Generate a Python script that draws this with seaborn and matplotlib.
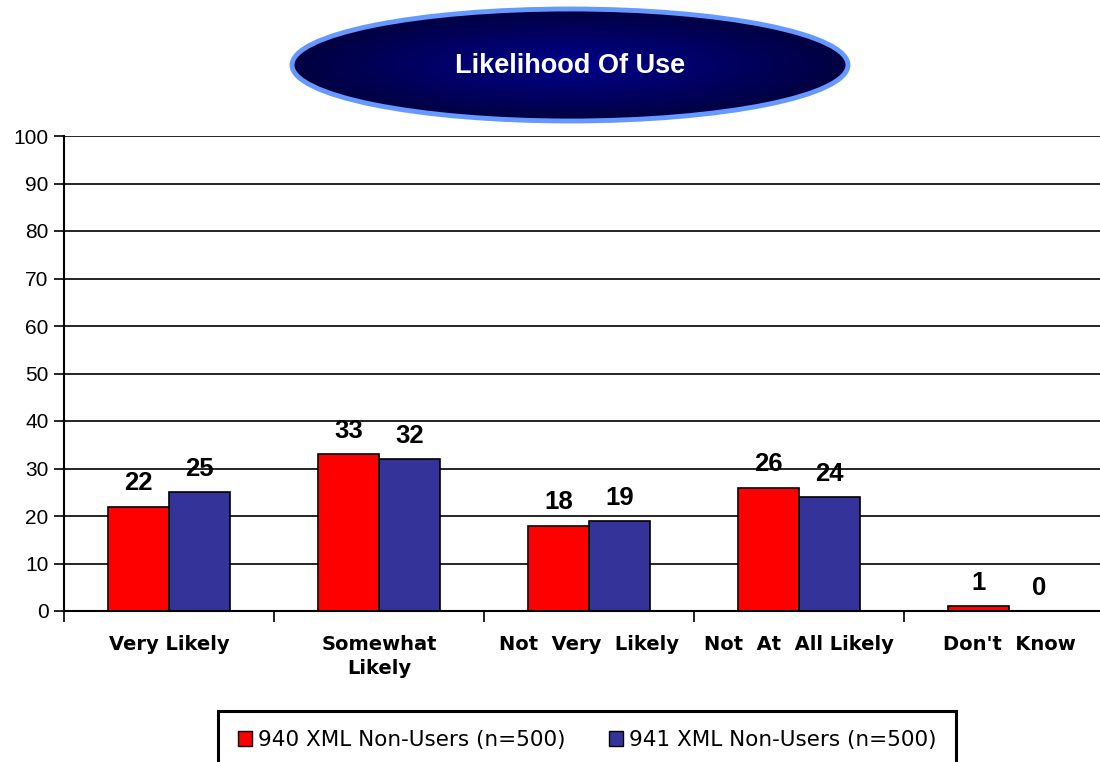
import numpy as np
import pandas as pd
import matplotlib
matplotlib.use("Agg")
import matplotlib.pyplot as plt
import seaborn as sns
from matplotlib.patches import Ellipse, Patch

categories = ["Very Likely", "Somewhat\nLikely", "Not  Very  Likely", "Not  At  All Likely", "Don't  Know"]
series_names = ["940 XML Non-Users (n=500)", "941 XML Non-Users (n=500)"]
values_940 = [22, 33, 18, 26, 1]
values_941 = [25, 32, 19, 24, 0]
y_ticks = [0, 10, 20, 30, 40, 50, 60, 70, 80, 90, 100]
title = "Likelihood Of Use"
colors = ["#FF0000", "#333399"]

df = pd.DataFrame({
    "category": categories * 2,
    "series": [series_names[0]] * 5 + [series_names[1]] * 5,
    "value": values_940 + values_941,
})

sns.set_theme(style="white")
plt.rcParams["font.family"] = ["DejaVu Sans"]
plt.rcParams["text.color"] = "black"
plt.rcParams["xtick.color"] = "black"
plt.rcParams["ytick.color"] = "black"
plt.rcParams["axes.labelcolor"] = "black"

W, H = 1100, 762
fig = plt.figure(figsize=(W / 100, H / 100), dpi=100)
ax = fig.add_axes([64 / W, (H - 611) / H, 1050 / W, (611 - 136) / H])

sns.barplot(data=df, x="category", y="value", hue="series", order=categories,
            hue_order=series_names, palette=colors, width=0.58, dodge=True,
            edgecolor="black", linewidth=1.2, ax=ax, legend=False, saturation=1)

ax.set_ylim(0, 100)
ax.set_xlim(-0.5, 4.5)
ax.set_yticks(y_ticks)
ax.set_yticklabels([str(t) for t in y_ticks], family="Liberation Sans", fontsize=15, color="black")
ax.yaxis.grid(True, color="black", linewidth=1.2)
ax.set_axisbelow(True)
ax.set_xlabel("")
ax.set_ylabel("")
ax.tick_params(axis="y", which="major", left=True, length=7, width=1.2, color="black", pad=4)
ax.set_xticks(range(5))
ax.set_xticklabels(categories, fontweight="bold", fontsize=14, family="DejaVu Sans",
                   linespacing=1.35, color="black")
ax.tick_params(axis="x", which="major", length=0, pad=17)
ax.set_xticks(np.arange(-0.5, 5.0, 1.0), minor=True)
ax.tick_params(axis="x", which="minor", bottom=True, length=8, width=1.2, color="black")
for s in ["top", "right"]:
    ax.spines[s].set_visible(False)
for s in ["left", "bottom"]:
    ax.spines[s].set_color("black")
    ax.spines[s].set_linewidth(1.5)

for cont in ax.containers:
    ax.bar_label(cont, fmt="%d", padding=8, fontsize=18.5, fontweight="bold",
                 family="Liberation Sans", color="black")

# title ellipse with radial gradient
tax = fig.add_axes([0, 0, 1, 1], zorder=5)
tax.set_xlim(0, W)
tax.set_ylim(H, 0)
tax.axis("off")
cx, cy, ew, eh = 570, 65, 556, 112
yy, xx = np.mgrid[0:200, 0:600]
r = np.sqrt(((xx - 300) / 300) ** 2 + ((yy - 100) / 100) ** 2)
c0 = np.array([0.0, 0.0, 0.55])
c1 = np.array([0.0, 0.0, 0.25])
t = np.clip(r, 0, 1)[..., None]
img = c0 * (1 - t) + c1 * t
im = tax.imshow(img, extent=[cx - ew / 2, cx + ew / 2, cy + eh / 2, cy - eh / 2], zorder=5)
ell = Ellipse((cx, cy), ew, eh, facecolor="none", edgecolor="#6699FF", linewidth=3.5, zorder=6)
tax.add_patch(ell)
clip = Ellipse((cx, cy), ew, eh, transform=tax.transData)
im.set_clip_path(clip)
tax.set_xlim(0, W)
tax.set_ylim(H, 0)
tax.text(cx, cy + 1, title, color="white", fontsize=19.5, fontweight="bold",
         family="Liberation Sans", ha="center", va="center", zorder=7)

handles = [Patch(facecolor=colors[i], edgecolor="black", linewidth=1) for i in range(2)]
leg = fig.legend(handles, series_names, loc="center", bbox_to_anchor=(587 / W, 1 - 740 / H),
                 ncol=2, frameon=True, fancybox=False, edgecolor="black", framealpha=1,
                 prop={"family": "DejaVu Sans", "size": 15.5}, handlelength=0.65,
                 handleheight=0.65, handletextpad=0.3, columnspacing=2.0, borderpad=0.9)
leg.get_frame().set_linewidth(2.2)
leg.get_frame().set_edgecolor("black")
for txt in leg.get_texts():
    txt.set_color("black")

fig.savefig("out.png", dpi=100)
